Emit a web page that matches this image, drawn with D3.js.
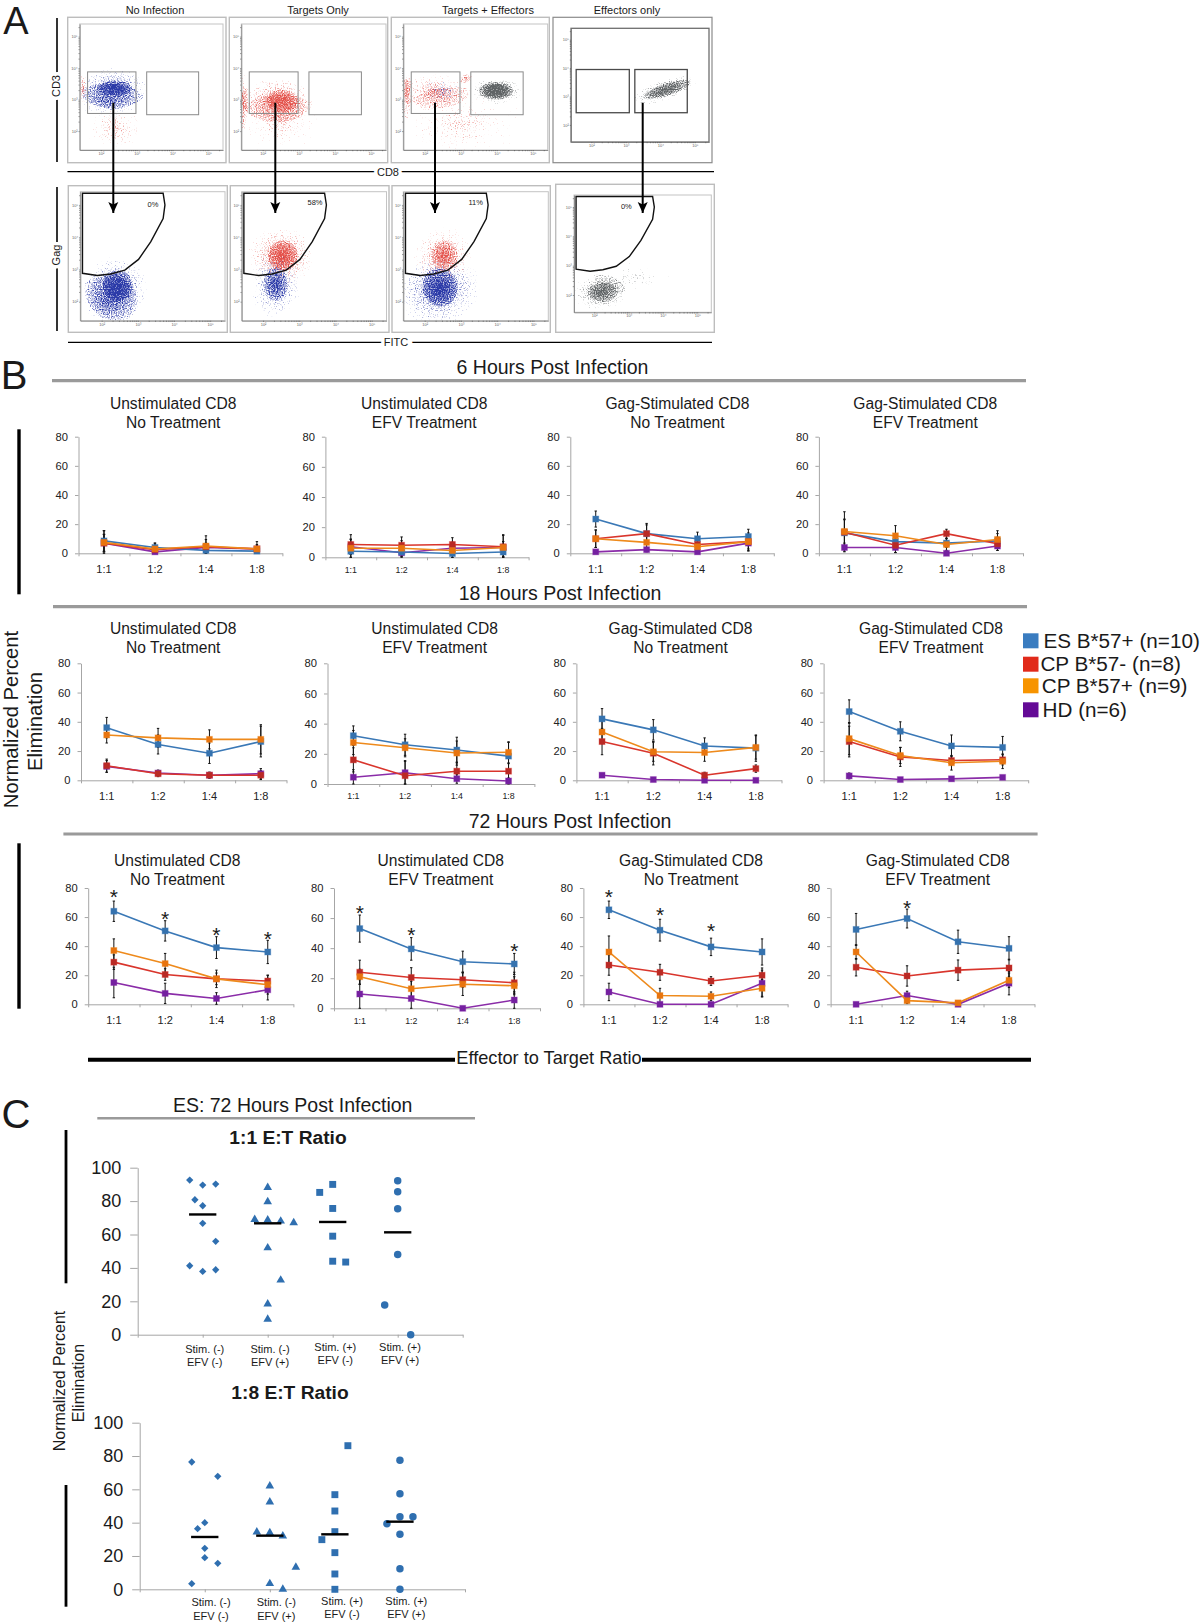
<!DOCTYPE html>
<html>
<head>
<meta charset="utf-8">
<style>
  html, body { margin: 0; padding: 0; background: #fff; }
  svg { display: block; }
  text { font-family: "Liberation Sans", Arial, sans-serif; fill: #1a1a1a; }
</style>
</head>
<body>
<div id="fig"></div>
<script src="https://cdn.jsdelivr.net/npm/d3@7"></script>
<script>
'use strict';

// panel B categories and series
var ratios = ['1:1', '1:2', '1:4', '1:8'];
var groupNames = ['ES B*57+ (n=10)', 'CP B*57- (n=8)', 'CP B*57+ (n=9)', 'HD (n=6)'];
var panelTitles = [
  ['Unstimulated CD8', 'No Treatment'],
  ['Unstimulated CD8', 'EFV Treatment'],
  ['Gag-Stimulated CD8', 'No Treatment'],
  ['Gag-Stimulated CD8', 'EFV Treatment']
];
var yTicks = [0, 20, 40, 60, 80];

// values, order is ES, CP-, CP+, HD
var h6A = [[8.5, 4, 2, 1.5], [7, 2.5, 4.5, 3], [7.5, 3, 5, 3], [7, 1, 4, 3]];
var h6AErr = [[7, 3, 4, 3], [6, 3, 5, 3], [8, 4, 7, 5], [6, 1, 3, 2]];
var h6B = [[4, 3.5, 2.5, 3.5], [8.5, 8, 8.5, 7], [6, 6, 4.5, 6.5], [7, 3, 6, 6.5]];
var h6BErr = [[4, 3, 2.5, 3], [6.5, 5.5, 4.5, 8], [6, 5, 5, 8], [5, 3, 4, 4]];
var h6C = [[23.5, 13.5, 10, 11.5], [10, 13.5, 6, 8], [10, 7.5, 4.5, 8], [1, 2.5, 1, 7]];
var h6CErr = [[5.5, 6, 4.5, 5], [6, 7, 4, 6], [6, 4, 3, 5], [1, 1.5, 1, 5.5]];
var h6D = [[14, 8, 7, 8.5], [14.5, 5.5, 13.5, 6.5], [15, 12, 6, 9.5], [4, 4, 0, 5]];
var h6DErr = [[9, 5, 3, 5], [9, 5, 3, 4.5], [13.5, 7, 4, 6], [3, 3.5, 0, 3]];

var h18A = [[36, 24.5, 18.5, 26.5], [10, 4.5, 3.5, 3.5], [31, 29, 28, 28], [9.5, 5, 3.5, 4.5]];
var h18AErr = [[7, 6.5, 7, 10.5], [4.5, 2, 2, 3], [5.5, 6.5, 6.5, 10], [4, 2, 2, 3.5]];
var h18B = [[32, 26, 22.5, 18.5], [16, 5.5, 8.5, 8.5], [27.5, 24, 20.5, 21], [4.5, 7.5, 3.5, 2]];
var h18BErr = [[6.5, 7, 8.5, 9], [8, 10, 6, 5], [8, 6, 8, 7], [5, 7.5, 3, 2]];
var h18C = [[42, 34.5, 23.5, 22], [26.5, 18.5, 3.5, 8], [33, 19.5, 19, 22.5], [3.5, 0.5, 0, 0]];
var h18CErr = [[7, 7, 5.5, 9], [9, 8, 2, 2.5], [8, 6.5, 6, 8], [1, 1, 0.5, 0.5]];
var h18D = [[47, 33.5, 23.5, 22.5], [26.5, 16, 13.5, 14], [28.5, 17, 12, 13], [3, 0.5, 1, 2]];
var h18DErr = [[8, 6.5, 7.5, 7.5], [10.5, 6.5, 3, 3.5], [11, 5.5, 5, 5], [2, 0.8, 1, 1]];

var h72A = [[64, 50.5, 39, 36], [29, 20.5, 17.5, 16], [37, 28, 17.5, 13.5], [15, 7.5, 4, 10]];
var h72AErr = [[7, 7, 7.5, 8], [5, 4, 4, 4], [8, 7, 6, 6.5], [10.5, 7, 4, 7]];
var h72B = [[53, 39.5, 31, 29.5], [24, 20.5, 19, 17], [21, 13, 16, 15], [9.5, 6.5, 0, 5.5]];
var h72BErr = [[9, 7.5, 7, 7], [8, 6.5, 5, 7], [5, 5, 7.5, 6], [9.5, 6.5, 0, 5.5]];
var h72C = [[65, 51, 39.5, 36], [27, 22, 16, 20], [36, 6, 5.5, 11], [8.5, 0, 0, 14.5]];
var h72CErr = [[6, 7.5, 6, 9], [7, 5.5, 3, 5], [11, 5, 3, 6], [6, 0, 0, 9]];
var h72D = [[51.5, 59, 43, 38.5], [25.5, 19.5, 23.5, 25], [36, 2.5, 1, 16.5], [0, 6, 0, 14.5]];
var h72DErr = [[11, 6.5, 8, 8], [6, 7, 7, 6], [5, 2, 1, 5], [0, 3, 0, 8]];

// significance stars, height on the y axis, null is no star
var h72AStars = [77, 62, 51, 48];
var h72BStars = [66.5, 52, null, 41.5];
var h72CStars = [77, 65, 54, null];
var h72DStars = [null, 69.5, null, null];

// panel C, each point is [group + sideways offset, value]
var cCategories = [['Stim. (-)', 'EFV (-)'], ['Stim. (-)', 'EFV (+)'], ['Stim. (+)', 'EFV (-)'], ['Stim. (+)', 'EFV (+)']];
var cTicks = [0, 20, 40, 60, 80, 100];
var ratio11Diamonds = [[0.8, 92.6], [1, 89.6], [1.2, 90.2], [0.88, 80.8], [1, 77.2], [1, 66.7], [1.2, 55.9], [0.8, 41.3], [1, 37.9], [1.2, 38.9]];
var ratio11Triangles = [[2, 88.2], [2, 79.6], [1.8, 69], [2, 68.7], [2.2, 68], [2.4, 67], [2, 52], [2.2, 32.7], [2, 18.4], [2, 9.2]];
var ratio11Squares = [[2.8, 85.2], [3, 90], [3, 75.6], [3, 59], [3, 44], [3.2, 43.5]];
var ratio11Circles = [[4, 92.2], [4, 85.6], [4, 75.4], [4, 48], [3.8, 17.8], [4.2, 0]];
var ratio11Means = [72, 66.7, 67.5, 61.3];
var ratio18Diamonds = [[0.8, 76.4], [1.2, 67.8], [1, 40], [0.89, 36.4], [1, 24.6], [1, 19], [1.2, 15.6], [0.8, 3.4]];
var ratio18Triangles = [[2, 62], [2, 52.4], [1.8, 34.4], [2, 34], [2.2, 32], [2.4, 13.2], [2, 3.4], [2.2, 0]];
var ratio18Squares = [[3.2, 86.2], [3, 56.8], [3, 47], [3, 34.6], [2.8, 29.8], [3, 22], [3, 9.2], [3, 0]];
var ratio18Circles = [[4, 77.4], [4, 57.4], [4, 43.6], [4.2, 43.6], [3.8, 39.4], [4, 33], [4, 12.4], [4, 0]];
var ratio18Means = [31.4, 32.2, 33, 40.6];

// panel A, log10 axis units. clouds are [colour, centre x, centre y, spread x, spread y, tilt, density]
var facsDecades = [2, 3, 4, 5];
var cd3Titles = ['No Infection', 'Targets Only', 'Targets + Effectors', 'Effectors only'];
var gagPercents = ['0%', '58%', '11%', '0%'];
var cd3GateLeft = [1.63, 2.98, 2.56, 3.88];
var cd3GateRight = [3.28, 4.73, 2.52, 3.88];
var cd3GateLeftDark = [1.56, 3.10, 2.43, 3.95];
var cd3GateRightDark = [3.26, 4.78, 2.43, 3.95];
var gagGateX = [1.47, 3.70, 3.75, 3.70, 3.36, 3.02, 2.64, 2.25, 1.88, 1.47];
var gagGateY = [5.36, 5.36, 5.00, 4.58, 3.86, 3.31, 2.98, 2.86, 2.81, 2.88];
var cd3Clouds = [
  [['blue', 2.35, 3.36, 0.4, 0.27, 0, 1], ['blue', 2.4, 3.36, 0.2, 0.1, 0, 0.9], ['blue', 2.2, 2.9, 0.45, 0.25, 0, 0.72],
   ['red', 1.5, 3.33, 0.06, 0.22, 0, 0.9], ['red', 2.4, 2.1, 0.4, 0.33, 0, 0.72]],
  [['red', 2.4, 3.0, 0.42, 0.3, 0, 0.95], ['red', 2.55, 2.95, 0.18, 0.15, 0, 0.8], ['red', 1.47, 3.0, 0.05, 0.4, 0, 0.82], ['red', 2.5, 2.2, 0.55, 0.4, 0, 0.68]],
  [['red', 2.25, 3.28, 0.42, 0.24, 0, 0.85], ['blue', 2.5, 3.25, 0.3, 0.2, 0, 0.76], ['red', 1.5, 3.3, 0.05, 0.4, 0, 0.8],
   ['red', 3.15, 3.68, 0.08, 0.08, 0, 1], ['grey', 3.98, 3.28, 0.3, 0.18, 0, 1.1], ['grey', 3.98, 3.28, 0.2, 0.12, 0, 1.1],
   ['grey', 3.98, 3.28, 0.15, 0.09, 0, 1.1], ['red', 3.0, 2.2, 0.8, 0.5, 0, 0.66]],
  [['grey', 4.13, 3.23, 0.42, 0.16, -18, 1], ['grey', 4.2, 3.25, 0.3, 0.09, -18, 0.95]]
];
var gagClouds = [
  [['blue', 2.39, 2.4, 0.36, 0.42, -15, 1], ['blue', 2.45, 2.5, 0.17, 0.2, -20, 1], ['blue', 2.15, 2.0, 0.35, 0.35, 0, 0.72]],
  [['red', 2.5, 3.42, 0.38, 0.38, 0, 1.05], ['red', 2.55, 3.42, 0.17, 0.2, 0, 0.95], ['blue', 2.35, 2.52, 0.3, 0.45, 0, 0.92], ['blue', 2.35, 2.55, 0.14, 0.22, 0, 0.75]],
  [['blue', 2.4, 2.36, 0.48, 0.45, -15, 1.15], ['blue', 2.42, 2.45, 0.2, 0.25, -15, 1.05], ['red', 2.5, 3.42, 0.36, 0.38, 0, 0.9], ['red', 2.55, 3.42, 0.15, 0.2, 0, 0.72]],
  [['grey', 2.15, 2.08, 0.33, 0.26, 0, 0.98], ['grey', 2.25, 2.1, 0.18, 0.14, 0, 0.85], ['grey', 3.2, 2.6, 0.5, 0.25, 0, 0.62]]
];

// layout
var seriesColor = ['#3a78b6', '#d9352c', '#ee8a1c', '#8a2ca8'];
var markerColor = ['#3572ae', '#b92a25', '#e8740f', '#7420a0'];
var legendColor = ['#3a7cc0', '#e12a1a', '#f79400', '#640a96'];
var drawOrder = [3, 0, 1, 2];
var bRows = [
  { panels: [
    { x0: 78.5, x1: 282.4, y80: 436.7, y0: 553.3, tc: 173.2, vals: h6A, errs: h6AErr },
    { x0: 325.4, x1: 528.6, y80: 436.7, y0: 557.3, tc: 424.2, vals: h6B, errs: h6BErr, small: true },
    { x0: 570.3, x1: 773.8, y80: 436.7, y0: 553.3, tc: 677.4, vals: h6C, errs: h6CErr },
    { x0: 818.9, x1: 1023, y80: 436.7, y0: 553.3, tc: 925.3, vals: h6D, errs: h6DErr }
  ], t1: 403.3, t2: 422.3 },
  { panels: [
    { x0: 81, x1: 286.5, y80: 663.3, y0: 780.3, tc: 173.2, vals: h18A, errs: h18AErr },
    { x0: 327.5, x1: 534.4, y80: 663.3, y0: 784, tc: 434.6, vals: h18B, errs: h18BErr, small: true },
    { x0: 576.4, x1: 781.5, y80: 663.3, y0: 780.3, tc: 680.5, vals: h18C, errs: h18CErr },
    { x0: 823.6, x1: 1028.2, y80: 663.3, y0: 780.3, tc: 931, vals: h18D, errs: h18DErr }
  ], t1: 628.7, t2: 647.3 },
  { panels: [
    { x0: 88.2, x1: 293.4, y80: 888, y0: 1004.3, tc: 177.3, vals: h72A, errs: h72AErr, stars: h72AStars },
    { x0: 334, x1: 540, y80: 888, y0: 1008.3, tc: 440.8, vals: h72B, errs: h72BErr, stars: h72BStars, small: true },
    { x0: 583.4, x1: 787.6, y80: 888, y0: 1004.3, tc: 691, vals: h72C, errs: h72CErr, stars: h72CStars },
    { x0: 830.6, x1: 1034.5, y80: 888, y0: 1004.3, tc: 937.7, vals: h72D, errs: h72DErr, stars: h72DStars }
  ], t1: 860.7, t2: 879.3 }
];

var svg = d3.select('#fig').append('svg').attr('width', 1200).attr('height', 1622);
var defs = svg.append('defs');

function addText(parent, str, x, y, size, opts) {
  opts = opts || {};
  return parent.append('text').text(str)
    .attr('x', x).attr('y', y)
    .attr('font-size', size)
    .attr('dy', '0.35em')
    .attr('text-anchor', opts.anchor || 'middle')
    .attr('font-weight', opts.bold ? 'bold' : null)
    .attr('transform', opts.rotate ? 'rotate(' + opts.rotate + ' ' + x + ' ' + y + ')' : null);
}

function addRule(parent, x1, y1, x2, y2, width, color) {
  return parent.append('line')
    .attr('x1', x1).attr('y1', y1).attr('x2', x2).attr('y2', y2)
    .attr('stroke', color || '#000').attr('stroke-width', width);
}

// ---- panel A ----

// speckle filters: gradient alpha plus noise, thresholded, so the dots get denser toward a cloud's centre
var cloudInk = { blue: '#2b3aa8', red: '#e4534c', grey: '#5f6365' };
Object.keys(cloudInk).forEach(function(name, i) {
  var f = defs.append('filter').attr('id', 'speckle-' + name)
    .attr('x', '-10%').attr('y', '-10%').attr('width', '120%').attr('height', '120%')
    .attr('color-interpolation-filters', 'sRGB');
  f.append('feTurbulence').attr('type', 'fractalNoise').attr('baseFrequency', 0.85)
    .attr('numOctaves', 1).attr('seed', i + 3).attr('result', 'noise');
  f.append('feColorMatrix').attr('in', 'noise').attr('type', 'matrix')
    .attr('values', '0 0 0 0 0  0 0 0 0 0  0 0 0 0 0  1 0 0 0 0').attr('result', 'noiseAlpha');
  f.append('feComposite').attr('in', 'SourceAlpha').attr('in2', 'noiseAlpha')
    .attr('operator', 'arithmetic').attr('k1', 0).attr('k2', 1).attr('k3', 1).attr('k4', -1).attr('result', 'diff');
  var ct = f.append('feComponentTransfer').attr('in', 'diff').attr('result', 'mask');
  ct.append('feFuncA').attr('type', 'linear').attr('slope', 2.6);
  f.append('feFlood').attr('flood-color', cloudInk[name]).attr('result', 'ink');
  f.append('feComposite').attr('in', 'ink').attr('in2', 'mask').attr('operator', 'in').attr('result', 'dots');
  f.append('feGaussianBlur').attr('in', 'dots').attr('stdDeviation', 0.3);
});
var cloudGrad = defs.append('radialGradient').attr('id', 'cloud-grad');
[[0, 0.76], [0.15, 0.67], [0.4, 0.55], [0.7, 0.44], [1, 0.3]].forEach(function(s) {
  cloudGrad.append('stop').attr('offset', s[0]).attr('stop-color', '#000').attr('stop-opacity', s[1]);
});

defs.append('marker').attr('id', 'arrow-head')
  .attr('markerUnits', 'userSpaceOnUse').attr('markerWidth', 12).attr('markerHeight', 14)
  .attr('refX', 11).attr('refY', 6).attr('orient', 'auto')
  .append('path').attr('d', 'M0,1 L11,6 L0,11 L2.5,6 Z').attr('fill', '#000');

var minorTicks = [];
facsDecades.forEach(function(d) {
  d3.range(1, 10).forEach(function(m) {
    var t = d + Math.log10(m);
    if (t < 5.38) minorTicks.push(t);
  });
});
var superscript = { 2: '\u00b2', 3: '\u00b3', 4: '\u2074', 5: '\u2075' };

function drawFacs(cfg) {
  var g = svg.append('g').attr('class', 'facs');
  var dark = cfg.dark;
  g.append('rect').attr('x', cfg.ox0).attr('y', cfg.oy0).attr('width', cfg.ox1 - cfg.ox0).attr('height', cfg.oy1 - cfg.oy0)
    .attr('fill', '#fff').attr('stroke', dark ? '#8b8b8b' : '#bdbdbd').attr('stroke-width', dark ? 1.2 : 1.4);
  var x = d3.scaleLinear().domain(cfg.xd).range([cfg.x0, cfg.x1]);
  var y = d3.scaleLinear().domain(cfg.yd).range([cfg.y0, cfg.y1]);

  // clouds, grouped per colour
  var clipId = 'facs-clip-' + cfg.id;
  defs.append('clipPath').attr('id', clipId).append('rect')
    .attr('x', cfg.x0).attr('y', cfg.y1).attr('width', cfg.x1 - cfg.x0).attr('height', cfg.y0 - cfg.y1);
  var clip = g.append('g').attr('clip-path', 'url(#' + clipId + ')');
  d3.groups(cfg.clouds, function(c) { return c[0]; }).forEach(function(entry) {
    var cg = clip.append('g').attr('filter', 'url(#speckle-' + entry[0] + ')');
    entry[1].forEach(function(c) {
      var cx = x(c[1]), cy = y(c[2]);
      cg.append('ellipse')
        .attr('cx', cx).attr('cy', cy)
        .attr('rx', Math.abs(x(c[1] + c[3] * 2.4) - cx))
        .attr('ry', Math.abs(y(c[2] + c[4] * 2.4) - cy))
        .attr('transform', 'rotate(' + c[5] + ' ' + cx + ' ' + cy + ')')
        .attr('fill', 'url(#cloud-grad)')
        .attr('fill-opacity', c[6]);
    });
  });

  g.append('rect').attr('x', cfg.x0).attr('y', cfg.y1).attr('width', cfg.x1 - cfg.x0).attr('height', cfg.y0 - cfg.y1)
    .attr('fill', 'none').attr('stroke', dark ? '#6e6e6e' : '#c4c4c4').attr('stroke-width', dark ? 1.3 : 1);

  function fmt(d) { return Number.isInteger(d) ? '10' + superscript[d] : ''; }
  var ax = g.append('g').attr('transform', 'translate(0,' + cfg.y0 + ')')
    .call(d3.axisBottom(x).tickValues(minorTicks).tickSize(1.2).tickSizeOuter(0).tickPadding(1).tickFormat(fmt));
  var ay = g.append('g').attr('transform', 'translate(' + cfg.x0 + ',0)')
    .call(d3.axisLeft(y).tickValues(minorTicks).tickSize(1.2).tickSizeOuter(0).tickPadding(1).tickFormat(fmt));
  [ax, ay].forEach(function(a) {
    a.selectAll('.domain').attr('stroke', '#777').attr('stroke-width', 0.8);
    a.selectAll('.tick line').attr('stroke', '#555').attr('stroke-width', 0.6);
    a.selectAll('text').attr('font-size', 4).style('fill', '#666');
  });

  // gates
  if (cfg.boxes) {
    cfg.boxes.forEach(function(b) {
      g.append('rect').attr('x', x(b[0])).attr('width', x(b[1]) - x(b[0]))
        .attr('y', y(b[3])).attr('height', y(b[2]) - y(b[3]))
        .attr('fill', 'none').attr('stroke', dark ? '#4a4a4a' : '#8a8a8a').attr('stroke-width', dark ? 1.3 : 1);
    });
  }
  if (cfg.poly) {
    var line = d3.line().x(function(d) { return x(d[0]); }).y(function(d) { return y(d[1]); }).curve(d3.curveLinearClosed);
    g.append('path').attr('d', line(gagGateX.map(function(v, i) { return [v, gagGateY[i]]; })))
      .attr('fill', 'none').attr('stroke', '#111').attr('stroke-width', 1.4);
  }
}

var facsTop = [
  { ox0: 67.7, ox1: 226, x0: 79.7, x1: 223 },
  { ox0: 229.3, ox1: 387.7, x0: 241.3, x1: 386 },
  { ox0: 391.3, ox1: 549.3, x0: 403.3, x1: 547.7 },
  { ox0: 553, ox1: 712, x0: 571, x1: 709, y0: 142, y1: 28.3, dark: true }
];
facsTop.forEach(function(p, i) {
  drawFacs({
    id: 'top' + i, ox0: p.ox0, ox1: p.ox1, oy0: 17.3, oy1: 162.7,
    x0: p.x0, x1: p.x1, y0: p.y0 || 150, y1: p.y1 || 24,
    xd: [1.41, 5.41], yd: [1.4, 5.4], dark: p.dark,
    clouds: cd3Clouds[i],
    boxes: p.dark ? [cd3GateLeftDark, cd3GateRightDark] : [cd3GateLeft, cd3GateRight]
  });
  addText(svg, cd3Titles[i], [155, 318, 488, 627][i], 10, 11);
});
var facsBottom = [
  { ox0: 68.3, ox1: 227.3, x0: 80.3, x1: 225 },
  { ox0: 230.3, ox1: 389, x0: 241.7, x1: 386.5 },
  { ox0: 392, ox1: 550.3, x0: 403.3, x1: 548.3 },
  { ox0: 555.7, ox1: 714.3, x0: 574, x1: 711.3, y0: 312.3, y1: 195, oy0: 184.3, dark: true }
];
facsBottom.forEach(function(p, i) {
  drawFacs({
    id: 'bottom' + i, ox0: p.ox0, ox1: p.ox1, oy0: p.oy0 || 185.7, oy1: 332.3,
    x0: p.x0, x1: p.x1, y0: p.y0 || 320.7, y1: p.y1 || 191.7,
    xd: [1.41, 5.41], yd: [1.41, 5.41], dark: false,
    clouds: gagClouds[i], poly: true
  });
  addText(svg, gagPercents[i], [153, 315, 475.7, 626.3][i], [204, 202, 202, 206][i], 7.5);
});
[113.3, 275.3, 435, 642.7].forEach(function(ax) {
  addRule(svg, ax, 102.7, ax, 213, 2).attr('marker-end', 'url(#arrow-head)');
});

addRule(svg, 57, 18, 57, 162, 1.6);
addRule(svg, 57, 187, 57, 331, 1.6);
addRule(svg, 67.5, 171.7, 714, 171.7, 1.2);
addRule(svg, 68, 342.3, 712, 342.3, 1.2);
function haloLabel(str, x, y, size, rotate) {
  addText(svg, str, x, y, size, { rotate: rotate })
    .attr('stroke', '#fff').attr('stroke-width', 7).attr('paint-order', 'stroke');
}
haloLabel('CD3', 56.5, 86, 11, -90);
haloLabel('Gag', 56.5, 255, 11, -90);
haloLabel('CD8', 388, 172, 11);
haloLabel('FITC', 396, 342.5, 11);

addText(svg, 'A', 16, 21, 38);
addText(svg, 'B', 14, 375, 40);
addText(svg, 'C', 16, 1114, 40);

// ---- panel B ----

function drawLinePanel(p, t1, t2, idx) {
  var g = svg.append('g').attr('class', 'line-panel');
  var y = d3.scaleLinear().domain([0, 80]).range([p.y0, p.y80]);
  var xBand = d3.scaleBand().domain(ratios).range([p.x0, p.x1]);
  var xEdge = d3.scaleLinear().domain([0, ratios.length]).range([p.x0, p.x1]);
  function xPos(i) { return xBand(ratios[i]) + xBand.bandwidth() / 2; }

  addText(g, panelTitles[idx][0], p.tc, t1, 15.6);
  addText(g, panelTitles[idx][1], p.tc, t2, 15.6);

  var ya = g.append('g').attr('transform', 'translate(' + p.x0 + ',0)')
    .call(d3.axisLeft(y).tickValues(yTicks).tickSize(3.5).tickPadding(7).tickSizeOuter(0));
  ya.selectAll('text').attr('font-size', 11.2).style('fill', '#222');
  var xa = g.append('g').attr('transform', 'translate(0,' + p.y0 + ')')
    .call(d3.axisBottom(xEdge).tickValues(d3.range(0, ratios.length + 1)).tickSize(3).tickFormat('').tickSizeOuter(0));
  var xl = g.append('g').attr('transform', 'translate(0,' + p.y0 + ')')
    .call(d3.axisBottom(xBand).tickSize(0).tickPadding(p.small ? 9 : 12));
  xl.select('.domain').remove();
  xl.selectAll('text').attr('font-size', p.small ? 8.8 : 11).style('fill', '#222');
  [ya, xa].forEach(function(a) {
    a.selectAll('.domain, .tick line').attr('stroke', '#a6a6a6').attr('stroke-width', 1);
  });

  var line = d3.line().x(function(d, i) { return xPos(i); }).y(function(d) { return y(d); });

  // error bars sit behind all the lines
  drawOrder.forEach(function(s) {
    p.vals[s].forEach(function(v, i) {
      var e = p.errs[s][i];
      var px = xPos(i);
      if (!e) return;
      var hi = y(v + e), lo = y(Math.max(0, v - e));
      addRule(g, px, hi, px, lo, 1, '#111');
      addRule(g, px - 1.2, hi, px + 1.2, hi, 1, '#111');
      addRule(g, px - 1.2, lo, px + 1.2, lo, 1, '#111');
    });
  });
  drawOrder.forEach(function(s) {
    g.append('path').attr('d', line(p.vals[s]))
      .attr('fill', 'none').attr('stroke', seriesColor[s]).attr('stroke-width', 1.6);
    p.vals[s].forEach(function(v, i) {
      g.append('rect')
        .attr('x', xPos(i) - 3).attr('y', y(v) - 3).attr('width', 6).attr('height', 6)
        .attr('fill', markerColor[s])
        .attr('stroke', seriesColor[s]).attr('stroke-opacity', 0.35).attr('stroke-width', 1);
    });
  });
  if (p.stars) {
    p.stars.forEach(function(v, i) {
      if (v === null) return;
      g.append('text').text('*').attr('x', xPos(i)).attr('y', y(v))
        .attr('dy', '0.57em').attr('text-anchor', 'middle').attr('font-size', 21);
    });
  }
}
bRows.forEach(function(r) {
  r.panels.forEach(function(p, i) { drawLinePanel(p, r.t1, r.t2, i); });
});

var sectionRules = [
  { str: '6 Hours Post Infection', tx: 552.5, ty: 366.7, y: 380.7, x0: 52, x1: 1026 },
  { str: '18 Hours Post Infection', tx: 560, ty: 593.3, y: 606.7, x0: 53, x1: 1027 },
  { str: '72 Hours Post Infection', tx: 570, ty: 820.7, y: 834, x0: 63.4, x1: 1037.6 }
];
sectionRules.forEach(function(s) {
  addText(svg, s.str, s.tx, s.ty, 19.5);
  addRule(svg, s.x0, s.y, s.x1, s.y, 3.2, '#9a9a9a');
});

var legendYs = [633.3, 656.7, 678.3, 702.3];
var legendTextX = [1043.4, 1040.4, 1041.7, 1042.5];
groupNames.forEach(function(name, i) {
  svg.append('rect').attr('x', 1023).attr('y', legendYs[i]).attr('width', 15.5).attr('height', 15)
    .attr('fill', legendColor[i]);
  addText(svg, name, legendTextX[i], legendYs[i] + 7.5, 20.7, { anchor: 'start' });
});

addRule(svg, 19, 429.3, 19, 594.3, 3.4);
addRule(svg, 19, 843.3, 19, 1008.7, 3.4);
addRule(svg, 88, 1059.7, 455, 1059.7, 4);
addRule(svg, 642, 1059.7, 1031, 1059.7, 4);
addText(svg, 'Effector to Target Ratio', 549, 1058, 18.2);
addText(svg, 'Normalized Percent', 10.5, 719.5, 20.2, { rotate: -90 });
addText(svg, 'Elimination', 34.5, 721.5, 20.2, { rotate: -90 });

// ---- panel C ----

var symbolMaker = d3.symbol();
var diamondType = d3.symbolDiamond2 || d3.symbolDiamond;

function drawScatter(cfg) {
  var g = svg.append('g').attr('class', 'scatter');
  var x = d3.scaleLinear().domain([0, 5]).range([cfg.x0, cfg.x1]);
  var y = d3.scaleLinear().domain([0, 100]).range([cfg.y0, cfg.y100]);

  addText(g, cfg.title, cfg.tx, cfg.ty, 19.2, { bold: true });

  var ya = g.append('g').attr('transform', 'translate(' + cfg.x0 + ',0)')
    .call(d3.axisLeft(y).tickValues(cTicks).tickSize(7.5).tickPadding(9).tickSizeOuter(0));
  ya.selectAll('text').attr('font-size', 18).style('fill', '#1a1a1a');
  var xa = g.append('g').attr('transform', 'translate(0,' + cfg.y0 + ')')
    .call(d3.axisBottom(x).tickValues(d3.range(0, 6)).tickSize(3).tickFormat('').tickSizeOuter(0));
  [ya, xa].forEach(function(a) {
    a.selectAll('.domain, .tick line').attr('stroke', '#a6a6a6').attr('stroke-width', 1);
  });

  cfg.series.forEach(function(s) {
    s.points.forEach(function(pt) {
      g.append('path')
        .attr('d', symbolMaker.type(s.type).size(s.size)())
        .attr('transform', 'translate(' + x(pt[0]) + ',' + y(pt[1]) + ')')
        .attr('fill', '#2f6fb0');
    });
  });
  cfg.means.forEach(function(m, i) {
    addRule(g, x(i + 1 - 0.21), y(m), x(i + 1 + 0.21), y(m), 2.4, '#000');
  });
  cCategories.forEach(function(lines, i) {
    addText(g, lines[0], cfg.labelX[i], cfg.labelY[i][0], 11);
    addText(g, lines[1], cfg.labelX[i], cfg.labelY[i][1], 11);
  });
}

function scatterSeries(d, t, s, c) {
  return [
    { points: d, type: diamondType, size: 34 },
    { points: t, type: d3.symbolTriangle, size: 32 },
    { points: s, type: d3.symbolSquare, size: 48 },
    { points: c, type: d3.symbolCircle, size: 44 }
  ];
}

drawScatter({
  x0: 137.7, x1: 462.7, y0: 1334.7, y100: 1167.7, title: '1:1 E:T Ratio', tx: 288, ty: 1137.3,
  series: scatterSeries(ratio11Diamonds, ratio11Triangles, ratio11Squares, ratio11Circles),
  means: ratio11Means,
  labelX: [204.7, 270, 335.3, 400],
  labelY: [[1348.7, 1361.7], [1348.7, 1361.7], [1346.7, 1360], [1346.7, 1360]]
});
drawScatter({
  x0: 139.7, x1: 465, y0: 1589.3, y100: 1422.7, title: '1:8 E:T Ratio', tx: 290, ty: 1392.7,
  series: scatterSeries(ratio18Diamonds, ratio18Triangles, ratio18Squares, ratio18Circles),
  means: ratio18Means,
  labelX: [211, 276.3, 342, 406.3],
  labelY: [[1601.7, 1616], [1601.7, 1616], [1600.7, 1614.3], [1600.7, 1614.3]]
});

addText(svg, 'ES: 72 Hours Post Infection', 292.7, 1105, 19.5);
addRule(svg, 97.3, 1118.3, 475, 1118.3, 2.6, '#9a9a9a');
addRule(svg, 66, 1130, 66, 1283.3, 2.8);
addRule(svg, 66, 1485, 66, 1606.7, 2.8);
addText(svg, 'Normalized Percent', 59, 1381, 16, { rotate: -90 });
addText(svg, 'Elimination', 78, 1383, 16, { rotate: -90 });
</script>
</body>
</html>
